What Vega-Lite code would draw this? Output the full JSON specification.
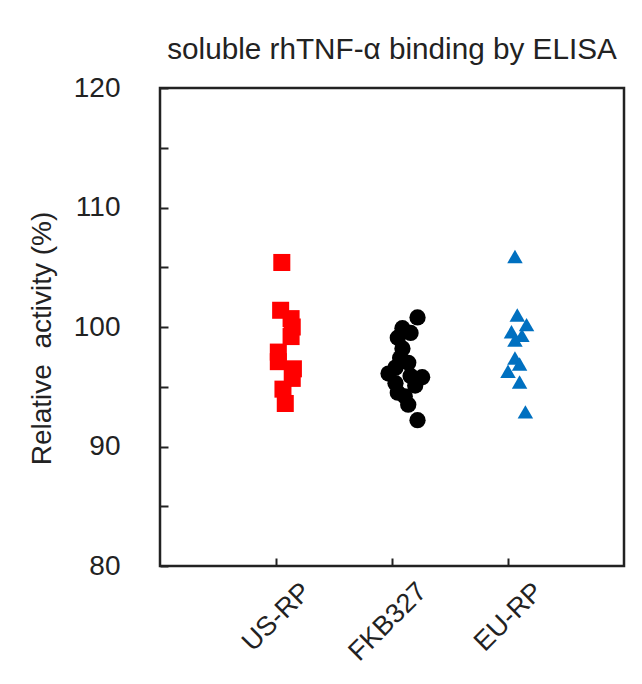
{
  "$schema": "https://vega.github.io/schema/vega-lite/v6.json",
  "width": 464,
  "height": 478,
  "autosize": {"type": "none"},
  "padding": {"left": 160, "top": 88, "right": 18, "bottom": 118},
  "background": "white",
  "title": {
    "text": "soluble rhTNF-α binding by ELISA",
    "font": "Liberation Sans",
    "fontSize": 29.7,
    "fontWeight": "normal",
    "color": "#222222",
    "anchor": "middle",
    "offset": 8
  },
  "config": {
    "view": {"stroke": "#222222", "strokeWidth": 2.5}
  },
  "data": {
    "values": [
      {"group": "US-RP", "activity": 105.4, "jitter": 0.05},
      {"group": "US-RP", "activity": 101.4, "jitter": 0.04},
      {"group": "US-RP", "activity": 100.7, "jitter": 0.13},
      {"group": "US-RP", "activity": 100.0, "jitter": 0.14},
      {"group": "US-RP", "activity": 99.2, "jitter": 0.13},
      {"group": "US-RP", "activity": 97.9, "jitter": 0.02},
      {"group": "US-RP", "activity": 97.1, "jitter": 0.02},
      {"group": "US-RP", "activity": 96.5, "jitter": 0.15},
      {"group": "US-RP", "activity": 95.7, "jitter": 0.14},
      {"group": "US-RP", "activity": 94.8, "jitter": 0.06},
      {"group": "US-RP", "activity": 93.6, "jitter": 0.08},
      {"group": "FKB327", "activity": 100.8, "jitter": 0.22},
      {"group": "FKB327", "activity": 99.9, "jitter": 0.09},
      {"group": "FKB327", "activity": 99.5, "jitter": 0.16},
      {"group": "FKB327", "activity": 99.1, "jitter": 0.05},
      {"group": "FKB327", "activity": 98.2, "jitter": 0.09},
      {"group": "FKB327", "activity": 97.4, "jitter": 0.07},
      {"group": "FKB327", "activity": 97.0, "jitter": 0.14},
      {"group": "FKB327", "activity": 96.6, "jitter": 0.03},
      {"group": "FKB327", "activity": 96.1, "jitter": -0.03},
      {"group": "FKB327", "activity": 95.8, "jitter": 0.26},
      {"group": "FKB327", "activity": 95.9, "jitter": 0.16},
      {"group": "FKB327", "activity": 95.3, "jitter": 0.03},
      {"group": "FKB327", "activity": 95.1, "jitter": 0.2},
      {"group": "FKB327", "activity": 94.5, "jitter": 0.05},
      {"group": "FKB327", "activity": 94.2, "jitter": 0.11},
      {"group": "FKB327", "activity": 93.5, "jitter": 0.14},
      {"group": "FKB327", "activity": 92.2, "jitter": 0.22},
      {"group": "EU-RP", "activity": 105.9, "jitter": 0.06},
      {"group": "EU-RP", "activity": 101.0, "jitter": 0.08},
      {"group": "EU-RP", "activity": 100.2, "jitter": 0.16},
      {"group": "EU-RP", "activity": 99.6, "jitter": 0.03},
      {"group": "EU-RP", "activity": 99.3, "jitter": 0.12},
      {"group": "EU-RP", "activity": 98.9, "jitter": 0.06},
      {"group": "EU-RP", "activity": 97.4, "jitter": 0.06},
      {"group": "EU-RP", "activity": 96.9, "jitter": 0.1},
      {"group": "EU-RP", "activity": 96.3, "jitter": 0.0},
      {"group": "EU-RP", "activity": 95.4, "jitter": 0.1},
      {"group": "EU-RP", "activity": 92.9, "jitter": 0.15}
    ]
  },
  "mark": {"type": "point", "filled": true, "opacity": 1, "strokeWidth": 0},
  "encoding": {
    "x": {
      "field": "group",
      "type": "nominal",
      "sort": ["US-RP", "FKB327", "EU-RP"],
      "scale": {"type": "point", "padding": 1},
      "axis": {
        "title": null,
        "domain": false,
        "grid": false,
        "offset": -8,
        "tickSize": 8,
        "tickWidth": 2,
        "tickColor": "#222222",
        "labelAngle": -45,
        "labelAlign": "right",
        "labelBaseline": "middle",
        "labelFont": "Liberation Sans",
        "labelFontSize": 27,
        "labelColor": "#222222",
        "labelPadding": 21,
        "labelOffset": 30
      }
    },
    "xOffset": {
      "field": "jitter",
      "type": "quantitative",
      "scale": {"domain": [-1, 1], "range": [-116, 116]}
    },
    "y": {
      "field": "activity",
      "type": "quantitative",
      "scale": {"domain": [80, 120], "nice": false, "zero": false},
      "axis": {
        "values": [80, 85, 90, 95, 100, 105, 110, 115, 120],
        "labelExpr": "datum.value % 10 === 0 ? datum.label : ''",
        "domain": false,
        "grid": false,
        "offset": -8,
        "tickSize": 8,
        "tickWidth": 2,
        "tickColor": "#222222",
        "labelFont": "Liberation Sans",
        "labelFontSize": 28,
        "labelColor": "#222222",
        "labelPadding": 40,
        "labelFlush": false,
        "labelOverlap": false,
        "title": "Relative\u00a0 activity (%)",
        "titleFont": "Liberation Sans",
        "titleFontSize": 28,
        "titleFontWeight": "normal",
        "titleColor": "#222222",
        "titleAngle": -90,
        "titleX": -126,
        "titleY": 250,
        "titleAlign": "center",
        "titleBaseline": "middle"
      }
    },
    "color": {
      "field": "group",
      "type": "nominal",
      "scale": {"domain": ["US-RP", "FKB327", "EU-RP"], "range": ["#FF0000", "#000000", "#0070C0"]},
      "legend": null
    },
    "shape": {
      "field": "group",
      "type": "nominal",
      "scale": {"domain": ["US-RP", "FKB327", "EU-RP"], "range": ["square", "circle", "triangle-up"]},
      "legend": null
    },
    "size": {
      "field": "group",
      "type": "nominal",
      "scale": {"domain": ["US-RP", "FKB327", "EU-RP"], "range": [290, 240, 270]},
      "legend": null
    }
  }
}
